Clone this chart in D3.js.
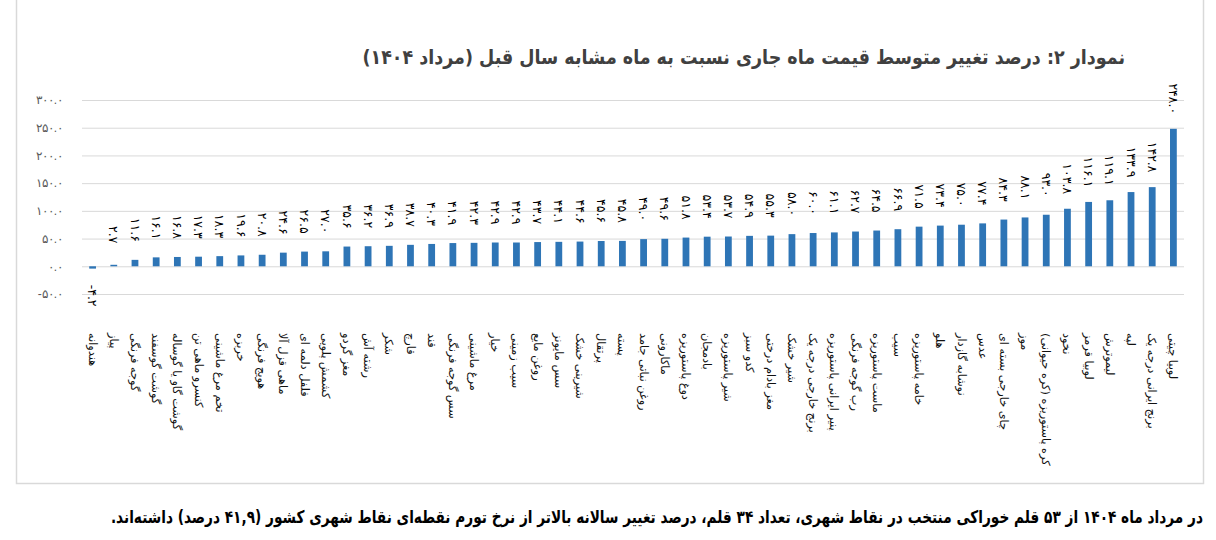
<!DOCTYPE html>
<html>
<head>
<meta charset="utf-8">
<script src="https://cdn.jsdelivr.net/npm/d3@7"></script>
<style>
  html, body { margin: 0; padding: 0; background: #fff; }
  svg { display: block; font-family: "DejaVu Sans", sans-serif; }
</style>
</head>
<body>
<svg id="chart" width="1216" height="540"></svg>
<script>
const categories = [
  "هندوانه", "پیاز", "گوجه فرنگی", "گوشت گوسفند", "گوشت گاو یا گوساله", "کنسرو ماهی تن",
  "تخم مرغ ماشینی", "خربزه", "هویج فرنگی", "ماهی قزل آلا", "فلفل دلمه ای", "کشمش پلویی",
  "مغز گردو", "رشته آش", "شکر", "قارچ", "قند", "سس گوجه فرنگی", "مرغ ماشینی", "خیار",
  "سیب زمینی", "روغن مایع", "سس مایونز", "شیرینی خشک", "پرتقال", "پسته", "روغن نباتی جامد",
  "ماکارونی", "دوغ پاستوریزه", "بادمجان", "شیر پاستوریزه", "کدو سبز", "مغز بادام درختی",
  "شیر خشک", "برنج خارجی درجه یک", "پنیر ایرانی پاستوریزه", "رب گوجه فرنگی", "ماست پاستوریزه",
  "سیب", "خامه پاستوریزه", "هلو", "نوشابه گازدار", "عدس", "چای خارجی بسته ای", "موز",
  "کره پاستوریزه (کره حیوانی)", "نخود", "لوبیا قرمز", "لیموترش", "لپه", "برنج ایرانی درجه یک", "لوبیا چیتی"
];
const values = [
  -4.2, 2.7, 11.6, 16.1, 16.8, 17.3, 18.3, 19.6, 20.8, 24.6, 26.5, 27.0,
  35.6, 36.2, 36.9, 38.7, 40.3, 41.9, 42.3, 42.9, 42.9, 43.7, 44.1, 44.6, 45.6, 45.8,
  49.0, 49.6, 51.8, 53.4, 53.7, 54.9, 55.3, 58.0, 60.0, 61.1, 62.7, 64.5, 66.9, 71.5,
  73.4, 75.0, 77.4, 84.3, 88.1, 93.0, 103.8, 116.1, 119.1, 133.9, 142.8, 248.0
];
const yTicks = [-50, 0, 50, 100, 150, 200, 250, 300];
const titleText = "نمودار ۲: درصد تغییر متوسط قیمت ماه جاری نسبت به ماه مشابه سال قبل (مرداد ۱۴۰۴)";
const noteText = "در مرداد ماه ۱۴۰۴ از ۵۳ قلم خوراکی منتخب در نقاط شهری، تعداد ۳۴ قلم، درصد تغییر سالانه بالاتر از نرخ تورم نقطه‌ای نقاط شهری کشور (۴۱,۹ درصد) داشته‌اند.";

const fa = s => String(s).replace(/[0-9]/g, d => "۰۱۲۳۴۵۶۷۸۹"[+d]);
const fmt = v => fa(d3.format(".1f")(v)).replace("−", "-");

const svg = d3.select("#chart");
const plot = { left: 82, right: 1184, top: 100, bottom: 294 };

// frame
svg.append("rect").attr("x", 16.5).attr("y", -5).attr("width", 1187).attr("height", 488.5)
  .attr("fill", "none").attr("stroke", "#d9d9d9").attr("stroke-width", 1.5);

const x = d3.scaleBand().domain(d3.range(values.length)).range([plot.left, plot.right]).paddingInner(0.68).paddingOuter(0.34);
const y = d3.scaleLinear().domain([-50, 300]).range([plot.bottom, plot.top]);

// grid + y axis
const yAxis = d3.axisLeft(y).tickValues(yTicks).tickSize(-(plot.right - plot.left)).tickPadding(19)
  .tickFormat(d => fmt(d));
const gy = svg.append("g").attr("transform", `translate(${plot.left},0)`).call(yAxis);
gy.select(".domain").remove();
gy.selectAll(".tick line").attr("stroke", "#d9d9d9").attr("stroke-width", 1);
gy.selectAll(".tick text").attr("fill", "#595959").attr("font-size", 12).attr("direction", "ltr");

// bars
svg.append("g").selectAll("rect").data(values).join("rect")
  .attr("x", (d, i) => x(i))
  .attr("width", x.bandwidth())
  .attr("y", d => y(Math.max(0, d)))
  .attr("height", d => Math.abs(y(d) - y(0)))
  .attr("fill", "#2e75b6");

// value labels
svg.append("g").selectAll("text").data(values).join("text")
  .attr("transform", (d, i) => {
    const cx = x(i) + x.bandwidth() / 2;
    const cy = d >= 0 ? y(d) - 30 : y(d) + 27;
    return `translate(${cx},${cy}) rotate(90)`;
  })
  .attr("text-anchor", "middle")
  .attr("dy", "0.35em")
  .attr("direction", "ltr")
  .attr("font-size", 12.5)
  .attr("fill", "#000")
  .text(d => fmt(d));

// category labels
svg.append("g").selectAll("text").data(categories).join("text")
  .attr("transform", (d, i) => `translate(${x(i) + x.bandwidth() / 2},333) rotate(90)`)
  .attr("direction", "rtl")
  .attr("text-anchor", "end")
  .attr("dy", "0.35em")
  .attr("font-size", 11.3)
  .attr("fill", "#111")
  .text(d => d);

// condensed text fitted to the reference width, anchored at its right end
function fitted(txt, rx, cy, fs, target, weight, color) {
  const t = svg.append("text").attr("x", 0).attr("y", 0).attr("dy", "0.35em")
    .attr("direction", "rtl").attr("text-anchor", "start")
    .attr("font-size", fs).attr("font-weight", weight).attr("fill", color)
    .text(txt);
  const w = t.node().getComputedTextLength();
  t.attr("transform", `translate(${rx},${cy}) scale(${Math.min(1, target / w)},1)`);
  return t;
}
fitted(titleText, 1125, 57, 20, 763, "bold", "#404040");
fitted(noteText, 1203, 517, 17.5, 1093, "bold", "#000");
</script>
</body>
</html>
